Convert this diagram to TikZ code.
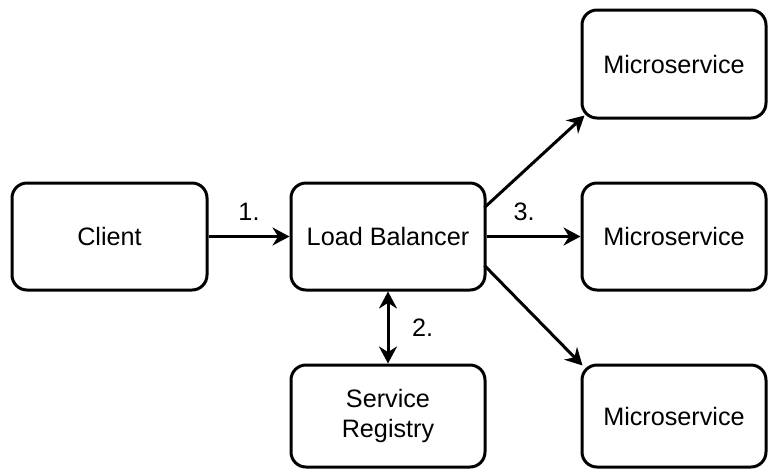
\documentclass[tikz,border=0pt]{standalone}
\usepackage{fontspec}
\setmainfont{Liberation Sans}
\usetikzlibrary{arrows.meta}
\begin{document}
\begin{tikzpicture}[x=0.5pt,y=-0.5pt,
  box/.style={draw,line width=1.5pt,rounded corners=7.5pt,align=center,font=\fontsize{12.6}{15}\selectfont},
  tip/.tip={Stealth[length=8.5pt,width=9pt,inset=2.8pt]},
  conn/.style={line width=1.5pt,-tip},
  lbl/.style={font=\fontsize{12.6}{15}\selectfont}]
\useasboundingbox (0,0) rectangle (768,468);
\node[box,minimum width=97.5pt,minimum height=53.5pt] (client) at (109.5,236.5) {Client};
\node[box,minimum width=97pt,minimum height=53.5pt] (lb) at (388,236.5) {Load Balancer};
\node[box,minimum width=97pt,minimum height=51pt] (reg) at (388,416) {Service\\Registry};
\node[box,minimum width=92pt,minimum height=54pt] (m1) at (674,64) {Microservice};
\node[box,minimum width=92pt,minimum height=53.5pt] (m2) at (674,236.5) {Microservice};
\node[box,minimum width=92pt,minimum height=51pt] (m3) at (674,416) {Microservice};
\draw[conn] (client.east) -- (lb.west) node[lbl,midway,above=4pt] {1.};
\draw[line width=1.5pt,tip-tip] (lb.south) -- (reg.north) node[lbl,midway,right=8pt] {2.};
\coordinate (lbne) at ([xshift=-1pt,yshift=-13pt]lb.north east);
\coordinate (lbse) at ([xshift=-1pt,yshift=13pt]lb.south east);
\coordinate (m1sw) at ([xshift=2pt,yshift=2pt]m1.south west);
\coordinate (m3nw) at ([xshift=1pt,yshift=-1pt]m3.north west);
\draw[conn] (lbne) -- (m1sw);
\draw[conn] (lb.east) -- (m2.west) node[lbl,pos=0.4,above=4pt] {3.};
\draw[conn] (lbse) -- (m3nw);
\end{tikzpicture}
\end{document}
